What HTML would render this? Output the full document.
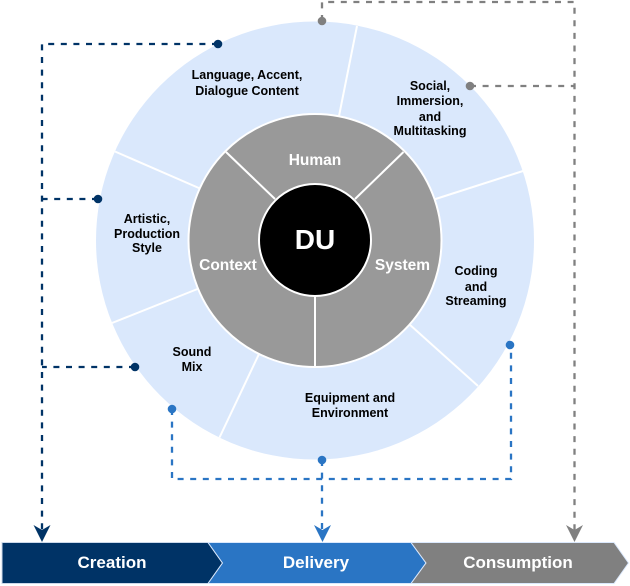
<!DOCTYPE html>
<html>
<head>
<meta charset="utf-8">
<style>
html,body{margin:0;padding:0;background:#fff}
svg{display:block}
text{font-family:"Liberation Sans",Arial,sans-serif;font-weight:bold;text-anchor:middle}
.l{font-size:12.5px;fill:#000}
.m{font-size:15.5px;fill:#fff}
.b{font-size:17px;fill:#fff}
.w{stroke:#fff;stroke-width:2;fill:none}
.d{fill:none;stroke-width:2.3;stroke-dasharray:6 6.6}
</style>
</head>
<body>
<svg width="630" height="586" viewBox="0 0 630 586" xmlns="http://www.w3.org/2000/svg">
<circle cx="315" cy="240.5" r="219" fill="#dae8fc"/>
<g class="w">
<path d="M357 26L339 116"/>
<path d="M523 171L434 199.500"/>
<path d="M478 386L409 324"/>
<path d="M219.500 437.500L259 354"/>
<path d="M112 323L200 288"/>
<path d="M115 151.500L200 188.500"/>
</g>
<circle cx="315" cy="240.500" r="126.500" fill="#999" stroke="#fff" stroke-width="2"/>
<g class="w">
<path d="M226 152L275 199"/>
<path d="M403.500 152L355 199"/>
<path d="M315 296L315 367"/>
</g>
<circle cx="315" cy="240" r="56" fill="#000" stroke="#fff" stroke-width="2"/>
<text x="315" y="249" fill="#fff" style="font-size:28px">DU</text>
<text class="m" x="315" y="165">Human</text>
<text class="m" x="228" y="270">Context</text>
<text class="m" x="402.500" y="270">System</text>
<text class="l" x="247" y="79">Language, Accent,</text>
<text class="l" x="247" y="95">Dialogue Content</text>
<text class="l" x="430" y="90">Social,</text>
<text class="l" x="430" y="105">Immersion,</text>
<text class="l" x="430" y="121">and</text>
<text class="l" x="430" y="135">Multitasking</text>
<text class="l" x="147" y="223">Artistic,</text>
<text class="l" x="147" y="238">Production</text>
<text class="l" x="147" y="252">Style</text>
<text class="l" x="476" y="275">Coding</text>
<text class="l" x="476" y="291">and</text>
<text class="l" x="476" y="305">Streaming</text>
<text class="l" x="192" y="356">Sound</text>
<text class="l" x="192" y="371">Mix</text>
<text class="l" x="350" y="402">Equipment and</text>
<text class="l" x="350" y="417">Environment</text>

<g stroke="#003366" class="d">
<path d="M218 44H42V530"/>
<path d="M98 199H42"/>
<path d="M135 367H42"/>
</g>
<g stroke="#2a75c4" class="d">
<path d="M172 409V479H511V345"/>
<path d="M322 460V530"/>
</g>
<g stroke="#808080" class="d">
<path d="M322 21V2H574.500V530"/>
<path d="M470 86H574"/>
</g>
<g fill="#003366">
<circle cx="218" cy="44" r="4.300"/><circle cx="98" cy="199" r="4.300"/><circle cx="135" cy="367" r="4.300"/>
<path d="M42 542L33.500 525L42 530L50.500 525Z"/>
</g>
<g fill="#2a75c4">
<circle cx="172" cy="409" r="4.300"/><circle cx="322" cy="460" r="4.300"/><circle cx="510" cy="345" r="4.300"/>
<path d="M322.500 542L314 525L322.500 530L331 525Z"/>
</g>
<g fill="#808080">
<circle cx="322" cy="21" r="4.300"/><circle cx="470" cy="86" r="4.300"/>
<path d="M574.500 542L566 525L574.500 530L583 525Z"/>
</g>

<path d="M2 542.500H208L222.500 563L208 583.500H2Z" fill="#003366" stroke="#ccd9ea" stroke-width="1"/>
<path d="M208 542.500H411L426 563L411 583.500H208L222.500 563Z" fill="#2a75c4" stroke="#dae8fc" stroke-width="1"/>
<path d="M411 542.500H614L628.500 563L614 583.500H411L426 563Z" fill="#808080" stroke="#dae8fc" stroke-width="1"/>
<text class="b" x="112" y="568">Creation</text>
<text class="b" x="316" y="568">Delivery</text>
<text class="b" x="518" y="568">Consumption</text>
</svg>
</body>
</html>
